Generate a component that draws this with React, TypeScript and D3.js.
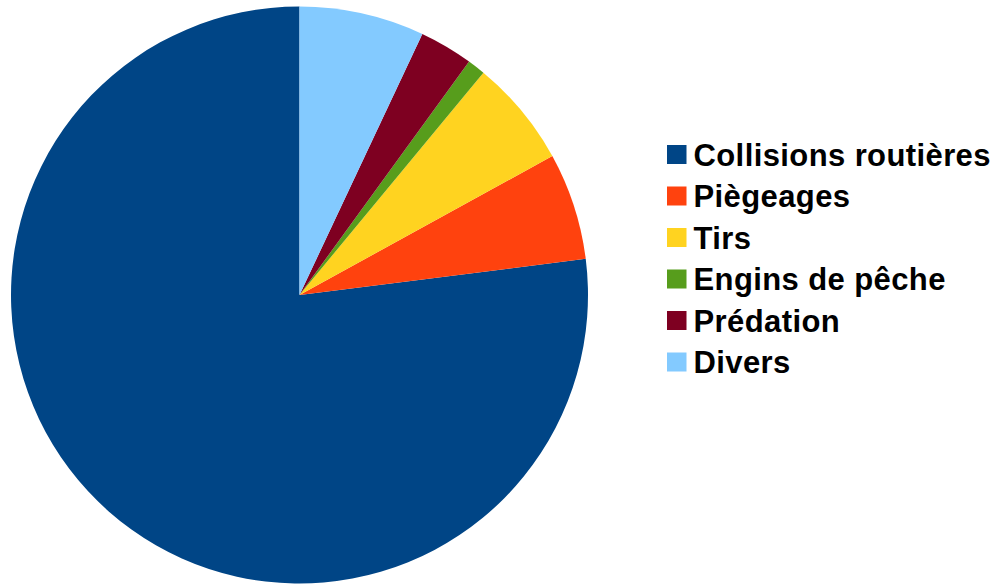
import React from "react";
import * as d3 from "d3";

const categories = ["Collisions routières", "Piègeages", "Tirs", "Engins de pêche", "Prédation", "Divers"];
const values = [77, 6, 6, 1, 3, 7];
const colors = ["#004586", "#ff420e", "#ffd320", "#579d1c", "#7e0021", "#83caff"];

export default function App() {
  const width = 992;
  const height = 585;
  const cx = 299.5;
  const cy = 295;
  const r = 288.5;
  const pie = d3.pie<number>().sort(null).startAngle(0).endAngle(-2 * Math.PI);
  const arcs = pie(values);
  const arcGen = d3.arc<d3.PieArcDatum<number>>().innerRadius(0).outerRadius(r);
  const legendX = 667;
  const legendY = 145;
  const step = 41.5;
  return (
    <svg width={width} height={height} style={{ position: "absolute", left: 0, top: 0 }}>
      <rect width={width} height={height} fill="#ffffff" />
      <g transform={`translate(${cx},${cy})`}>
        {arcs.map((a, i) => (
          <path key={i} d={arcGen(a) || ""} fill={colors[i]} />
        ))}
      </g>
      {categories.map((c, i) => (
        <g key={c} transform={`translate(${legendX},${legendY + i * step})`}>
          <rect x={0} y={0} width={19.5} height={19} fill={colors[i]} />
          <text x={26.5} y={20.5} fontFamily="Liberation Sans, Arial, sans-serif" fontWeight="bold" fontSize={31} letterSpacing={0.4} fill="#000">
            {c}
          </text>
        </g>
      ))}
    </svg>
  );
}
